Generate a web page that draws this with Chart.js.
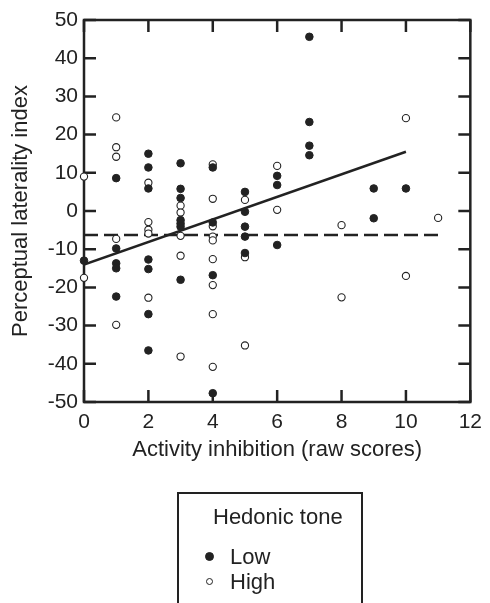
<!DOCTYPE html>
<html lang="en">
<head>
  <meta charset="UTF-8" />
  <title>Perceptual laterality vs activity inhibition</title>
  <script src="https://cdn.jsdelivr.net/npm/chart.js"></script>
  <style>
    body {
      margin: 0;
      background: #fff;
      color: #222;
      font-family: 'Liberation Sans', Arial, sans-serif;
    }
    .wrap {
      position: relative;
      width: 490px;
      height: 603px;
      overflow: hidden;
    }
    canvas {
      position: absolute;
      left: 0;
      top: 0;
    }
    .legend {
      position: absolute;
      left: 177px;
      top: 492px;
      width: 186px;
      height: 140px;
      border: 2.5px solid #222;
      box-sizing: border-box;
    }
    .legend h3 {
      position: absolute;
      left: 34px;
      top: 10px;
      margin: 0;
      font-size: 22px;
      font-weight: normal;
      line-height: 26px;
    }
    .legend ul {
      position: absolute;
      left: 26px;
      top: 50px;
      margin: 0;
      padding: 0;
      list-style: none;
    }
    .legend li {
      display: flex;
      align-items: center;
      height: 25px;
      font-size: 22px;
    }
    .legend .cell {
      width: 9px;
      display: flex;
      justify-content: center;
      margin-right: 16px;
    }
    .legend .dot {
      border-radius: 50%;
      box-sizing: border-box;
    }
  </style>
</head>
<body>
  <div class="wrap">
    <canvas id="chart" width="490" height="603"></canvas>
    <div class="legend">
      <h3 id="legendTitle"></h3>
      <ul id="legendItems"></ul>
    </div>
  </div>

  <script>
    // Activity inhibition (x) and perceptual laterality index (y), low hedonic tone
    const lowX = [0, 1, 1, 1, 1, 1, 2, 2, 2, 2, 2, 2, 2, 3, 3, 3, 3, 3, 3, 3,
                  4, 4, 4, 4, 5, 5, 5, 5, 5, 6, 6, 6, 7, 7, 7, 7, 9, 9, 10];
    const lowY = [-13, 8.6, -9.8, -13.7, -15, -22.4,
                  15, 11.4, 5.9, -12.7, -15.2, -27, -36.5,
                  12.5, 5.8, 3.4, -2.4, -3.3, -4.1, -18,
                  11.4, -3, -16.8, -47.7,
                  5, -0.2, -4.1, -6.7, -11,
                  9.2, 6.8, -8.9,
                  45.6, 23.3, 17.1, 14.6,
                  5.9, -1.9, 5.9];

    // High hedonic tone
    const highX = [0, 0, 1, 1, 1, 1, 1, 2, 2, 2, 2, 2, 3, 3, 3, 3, 3,
                   4, 4, 4, 4, 4, 4, 4, 4, 4, 5, 5, 5, 6, 6, 8, 8, 10, 10, 11];
    const highY = [9, -17.5,
                   24.5, 16.7, 14.2, -7.3, -29.8,
                   7.4, -2.9, -4.9, -5.9, -22.7,
                   1.4, -0.4, -6.5, -11.7, -38.1,
                   12.2, 3.2, -4, -6.7, -7.7, -12.6, -19.4, -27, -40.8,
                   2.9, -12.1, -35.2,
                   11.8, 0.3,
                   -3.7, -22.6,
                   24.3, -17,
                   -1.8];

    // Fitted lines (solid = low, dashed = high)
    const lowFitX = [0, 10];
    const lowFitY = [-14, 15.5];
    const highFitX = [0, 11];
    const highFitY = [-6.3, -6.3];

    const xTicks = [0, 2, 4, 6, 8, 10, 12];
    const yTicks = [-50, -40, -30, -20, -10, 0, 10, 20, 30, 40, 50];

    const ink = '#222';
    const zip = (xs, ys) => xs.map((x, i) => ({ x: x, y: ys[i] }));

    // Box around the plot with inward ticks on all four sides
    const framePlugin = {
      id: 'frame',
      beforeDatasetsDraw(chart) {
        const { ctx, chartArea: a, scales } = chart;
        const len = 12;
        ctx.save();
        ctx.strokeStyle = ink;
        ctx.lineWidth = 2.5;
        ctx.strokeRect(a.left, a.top, a.right - a.left, a.bottom - a.top);
        ctx.beginPath();
        xTicks.forEach(v => {
          const px = scales.x.getPixelForValue(v);
          ctx.moveTo(px, a.bottom); ctx.lineTo(px, a.bottom - len);
          ctx.moveTo(px, a.top); ctx.lineTo(px, a.top + len);
        });
        yTicks.forEach(v => {
          const py = scales.y.getPixelForValue(v);
          ctx.moveTo(a.left, py); ctx.lineTo(a.left + len, py);
          ctx.moveTo(a.right, py); ctx.lineTo(a.right - len, py);
        });
        ctx.stroke();
        ctx.restore();
      }
    };

    const ctx = document.getElementById('chart').getContext('2d');
    const chart = new Chart(ctx, {
      type: 'scatter',
      data: {
        datasets: [
          {
            label: 'Low',
            data: zip(lowX, lowY),
            backgroundColor: ink,
            borderColor: ink,
            borderWidth: 1,
            pointRadius: 3.8,
            clip: false
          },
          {
            label: 'High',
            data: zip(highX, highY),
            backgroundColor: '#fff',
            borderColor: ink,
            borderWidth: 1.1,
            pointRadius: 3.6,
            clip: false
          },
          {
            type: 'line',
            label: 'Low fit',
            data: zip(lowFitX, lowFitY),
            borderColor: ink,
            borderWidth: 2.5,
            pointRadius: 0,
            fill: false
          },
          {
            type: 'line',
            label: 'High fit',
            data: zip(highFitX, highFitY),
            borderColor: ink,
            borderWidth: 2.5,
            borderDash: [14, 6],
            pointRadius: 0,
            fill: false
          }
        ]
      },
      options: {
        responsive: false,
        animation: false,
        devicePixelRatio: 1,
        layout: { padding: { left: 0, right: 13, top: 20, bottom: 131 } },
        plugins: {
          legend: { display: false },
          tooltip: { enabled: false }
        },
        scales: {
          x: {
            type: 'linear',
            min: 0,
            max: 12,
            afterFit: s => { s.height = 70; },
            grid: { display: false, drawTicks: false },
            border: { display: false },
            ticks: {
              stepSize: 2,
              padding: 8,
              color: ink,
              font: { family: "'Liberation Sans', Arial, sans-serif", size: 21 }
            },
            title: {
              display: true,
              text: 'Activity inhibition (raw scores)',
              color: ink,
              padding: { top: 0, bottom: 9 },
              font: { family: "'Liberation Sans', Arial, sans-serif", size: 22 }
            }
          },
          y: {
            min: -50,
            max: 50,
            afterFit: s => { s.width = 84; },
            grid: { display: false, drawTicks: false },
            border: { display: false },
            ticks: {
              stepSize: 10,
              padding: 6,
              color: ink,
              font: { family: "'Liberation Sans', Arial, sans-serif", size: 21 }
            },
            title: {
              display: true,
              text: 'Perceptual laterality index',
              color: ink,
              padding: { top: 8, bottom: 0 },
              font: { family: "'Liberation Sans', Arial, sans-serif", size: 22 }
            }
          }
        }
      },
      plugins: [framePlugin]
    });

    // HTML legend built from the two point datasets
    const legendDotSizes = [9, 7];
    document.getElementById('legendTitle').textContent = 'Hedonic tone';
    const legendItems = document.getElementById('legendItems');
    chart.data.datasets.slice(0, 2).forEach((ds, i) => {
      const li = document.createElement('li');
      const cell = document.createElement('span');
      cell.className = 'cell';
      const dot = document.createElement('span');
      dot.className = 'dot';
      dot.style.width = legendDotSizes[i] + 'px';
      dot.style.height = legendDotSizes[i] + 'px';
      dot.style.background = ds.backgroundColor;
      dot.style.border = '1px solid ' + ds.borderColor;
      cell.appendChild(dot);
      li.appendChild(cell);
      li.appendChild(document.createTextNode(ds.label));
      legendItems.appendChild(li);
    });
  </script>
</body>
</html>
